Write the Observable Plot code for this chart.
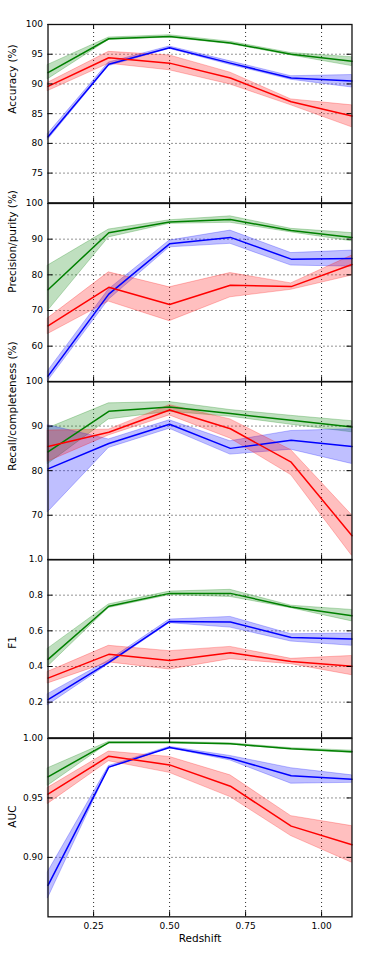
<!DOCTYPE html>
<html><head><meta charset="utf-8">
<script src="https://cdn.jsdelivr.net/npm/d3@7"></script>
<script src="https://cdn.jsdelivr.net/npm/@observablehq/plot@0.6"></script>
<style>
body{margin:0;background:#fff}
#chart{position:relative;width:382px;height:954px;font-family:"DejaVu Sans",sans-serif}
#chart svg{position:absolute;left:0;overflow:visible;background:transparent}
</style>
</head><body><div id="chart"></div>
<script>
// x positions (redshift bins)
const redshift = [0.1, 0.3, 0.5, 0.7, 0.9, 1.1];
const xTicks = [0.25, 0.5, 0.75, 1.0];

// Accuracy (%)
const accGreen   = [91.9, 97.6, 98.0, 96.9, 95.0, 93.8];
const accGreenLo = [90.8, 97.4, 97.8, 96.7, 94.8, 93.0];
const accGreenHi = [93.2, 97.8, 98.2, 97.1, 95.2, 94.5];
const accBlue    = [81.1, 93.3, 96.1, 93.5, 91.0, 90.5];
const accBlueLo  = [80.6, 93.0, 95.9, 93.2, 90.7, 89.4];
const accBlueHi  = [81.6, 93.6, 96.3, 93.8, 91.3, 91.5];
const accRed     = [89.6, 94.4, 93.5, 91.0, 87.0, 84.6];
const accRedLo   = [88.8, 93.4, 92.3, 89.9, 86.4, 82.7];
const accRedHi   = [90.2, 95.4, 94.8, 91.9, 87.4, 86.4];
const accTicks   = [75, 80, 85, 90, 95, 100];

// Precision/purity (%)
const precGreen   = [75.8, 91.8, 94.8, 95.5, 92.4, 90.5];
const precGreenLo = [69.9, 90.5, 94.3, 94.6, 91.9, 89.4];
const precGreenHi = [82.6, 92.7, 95.3, 96.4, 92.9, 91.7];
const precBlue    = [51.6, 74.6, 88.7, 90.5, 84.4, 84.6];
const precBlueLo  = [50.2, 73.0, 87.7, 88.7, 82.6, 82.3];
const precBlueHi  = [53.0, 75.9, 89.6, 92.4, 86.1, 86.8];
const precRed     = [65.7, 76.5, 71.7, 77.1, 76.7, 82.9];
const precRedLo   = [63.4, 72.5, 67.0, 73.7, 75.8, 79.8];
const precRedHi   = [67.8, 80.7, 76.5, 80.5, 77.6, 85.4];
const precTicks   = [60, 70, 80, 90, 100];

// Recall/completeness (%)
const recGreen   = [84.2, 93.3, 94.3, 92.8, 91.3, 89.8];
const recGreenLo = [81.5, 91.5, 93.2, 92.1, 90.3, 88.6];
const recGreenHi = [89.5, 95.1, 95.4, 93.6, 92.3, 91.1];
const recBlue    = [80.4, 86.1, 90.4, 85.0, 86.8, 85.4];
const recBlueLo  = [70.7, 85.1, 89.4, 83.6, 84.7, 81.5];
const recBlueHi  = [90.2, 87.0, 91.3, 86.6, 88.9, 89.3];
const recRed     = [85.4, 88.6, 93.6, 89.4, 81.9, 65.4];
const recRedLo   = [82.0, 87.9, 92.4, 87.2, 79.0, 60.9];
const recRedHi   = [89.0, 89.2, 94.7, 91.5, 84.6, 70.0];
const recTicks   = [70, 80, 90, 100];

// F1
const f1Green   = [0.440, 0.738, 0.810, 0.810, 0.734, 0.684];
const f1GreenLo = [0.400, 0.728, 0.800, 0.790, 0.727, 0.653];
const f1GreenHi = [0.500, 0.748, 0.820, 0.830, 0.741, 0.717];
const f1Blue    = [0.214, 0.423, 0.653, 0.649, 0.563, 0.554];
const f1BlueLo  = [0.183, 0.413, 0.643, 0.618, 0.540, 0.516];
const f1BlueHi  = [0.245, 0.433, 0.663, 0.678, 0.581, 0.585];
const f1Red     = [0.335, 0.468, 0.434, 0.477, 0.428, 0.402];
const f1RedLo   = [0.305, 0.423, 0.383, 0.441, 0.413, 0.351];
const f1RedHi   = [0.370, 0.516, 0.486, 0.510, 0.443, 0.459];
const f1Ticks   = [0.2, 0.4, 0.6, 0.8, 1.0];

// AUC
const aucGreen   = [0.9678, 0.9966, 0.9967, 0.9955, 0.9913, 0.9888];
const aucGreenLo = [0.9603, 0.9960, 0.9962, 0.9950, 0.9907, 0.9878];
const aucGreenHi = [0.9750, 0.9972, 0.9972, 0.9960, 0.9919, 0.9898];
const aucBlue    = [0.8764, 0.9759, 0.9924, 0.9834, 0.9686, 0.9658];
const aucBlueLo  = [0.8656, 0.9750, 0.9918, 0.9815, 0.9620, 0.9627];
const aucBlueHi  = [0.8877, 0.9768, 0.9930, 0.9853, 0.9750, 0.9690];
const aucRed     = [0.9532, 0.9851, 0.9778, 0.9599, 0.9263, 0.9106];
const aucRedLo   = [0.9450, 0.9809, 0.9711, 0.9507, 0.9179, 0.8955];
const aucRedHi   = [0.9585, 0.9890, 0.9845, 0.9690, 0.9347, 0.9263];
const aucTicks   = [0.90, 0.95, 1.00];

const colors = {green: "#008000", blue: "#0000ff", red: "#ff0000"};

const panels = [
  {label: "Accuracy (%)", domain: [70, 100], ticks: accTicks, fmt: d3.format("d"),
   series: [["green", accGreen, accGreenLo, accGreenHi], ["blue", accBlue, accBlueLo, accBlueHi], ["red", accRed, accRedLo, accRedHi]]},
  {label: "Precision/purity (%)", domain: [50, 100], ticks: precTicks, fmt: d3.format("d"),
   series: [["green", precGreen, precGreenLo, precGreenHi], ["blue", precBlue, precBlueLo, precBlueHi], ["red", precRed, precRedLo, precRedHi]]},
  {label: "Recall/completeness (%)", domain: [60, 100], ticks: recTicks, fmt: d3.format("d"),
   series: [["green", recGreen, recGreenLo, recGreenHi], ["blue", recBlue, recBlueLo, recBlueHi], ["red", recRed, recRedLo, recRedHi]]},
  {label: "F1", domain: [0, 1], ticks: f1Ticks, fmt: d3.format(".1f"),
   series: [["green", f1Green, f1GreenLo, f1GreenHi], ["blue", f1Blue, f1BlueLo, f1BlueHi], ["red", f1Red, f1RedLo, f1RedHi]]},
  {label: "AUC", domain: [0.85, 1.0], ticks: aucTicks, fmt: d3.format(".2f"),
   series: [["green", aucGreen, aucGreenLo, aucGreenHi], ["blue", aucBlue, aucBlueLo, aucBlueHi], ["red", aucRed, aucRedLo, aucRedHi]]}
];

const chart = document.getElementById("chart");
const W = 382, mL = 47.5, mR = 30.5, innerW = W - mL - mR;
const top0 = 24.3, innerH = 178.34, tickLen = 5;

panels.forEach((p, i) => {
  const last = i === panels.length - 1;
  const padTop = 12, padBottom = last ? 40 : 12;
  const marks = [];
  // grid
  marks.push(Plot.ruleX(xTicks, {x: d => d, stroke: "#000", strokeOpacity: 0.85, strokeDasharray: "1,3"}));
  marks.push(Plot.ruleY(p.ticks, {y: d => d, stroke: "#000", strokeOpacity: 0.85, strokeDasharray: "1,3"}));
  // bands and lines
  for (const [c, v, lo, hi] of p.series) {
    const rows = redshift.map((z, k) => ({z, v: v[k], lo: lo[k], hi: hi[k]}));
    marks.push(Plot.areaY(rows, {x: "z", y1: "lo", y2: "hi", fill: colors[c], fillOpacity: 0.25,
      stroke: colors[c], strokeOpacity: 0.25, strokeWidth: 1}));
  }
  for (const [c, v, lo, hi] of p.series) {
    const rows = redshift.map((z, k) => ({z, v: v[k]}));
    marks.push(Plot.lineY(rows, {x: "z", y: "v", stroke: colors[c], strokeWidth: 1.5}));
  }
  // inward ticks (matplotlib style)
  marks.push(Plot.tickY(p.ticks, {y: d => d, stroke: "#000", strokeWidth: 1, insetRight: innerW - tickLen}));
  marks.push(Plot.tickY(p.ticks, {y: d => d, stroke: "#000", strokeWidth: 1, insetLeft: innerW - tickLen}));
  marks.push(Plot.tickX(xTicks, {x: d => d, stroke: "#000", strokeWidth: 1, insetBottom: innerH - tickLen}));
  marks.push(Plot.tickX(xTicks, {x: d => d, stroke: "#000", strokeWidth: 1, insetTop: innerH - tickLen}));
  marks.push(Plot.frame({stroke: "#111", strokeWidth: 1.3}));
  // y label
  marks.push(Plot.text([p.label], {text: d => d, frameAnchor: "left", rotate: -90, dx: -35,
    fontSize: 10.5, fill: "#000"}));
  if (last) {
    marks.push(Plot.text(["Redshift"], {text: d => d, frameAnchor: "bottom", dy: 25, fontSize: 10.5, fill: "#000"}));
  }
  const svg = Plot.plot({
    width: W,
    height: innerH + padTop + padBottom,
    marginLeft: mL, marginRight: mR, marginTop: padTop, marginBottom: padBottom,
    style: {background: "transparent", overflow: "visible", fontFamily: "DejaVu Sans", fontSize: "9px", color: "#000"},
    x: {domain: [0.1, 1.1], axis: last ? "bottom" : null, ticks: xTicks, tickFormat: d3.format(".2f"),
        tickSize: 0, tickPadding: 6, label: null},
    y: {domain: p.domain, ticks: p.ticks, tickFormat: p.fmt, tickSize: 0, tickPadding: 5, label: null},
    marks
  });
  svg.style.top = (top0 + i * innerH - padTop) + "px";
  chart.appendChild(svg);
});
</script></body></html>
